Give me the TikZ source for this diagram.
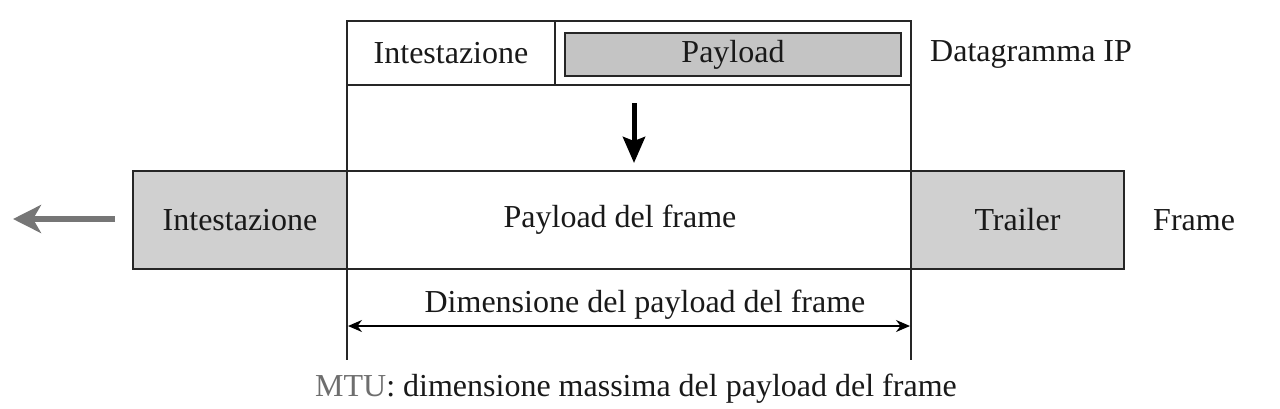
\documentclass[tikz,border=0pt]{standalone}
\usepackage{fontspec}
\setmainfont{Liberation Serif}
\usetikzlibrary{arrows.meta}
\definecolor{boxgray}{RGB}{208,208,208}
\definecolor{paygray}{RGB}{196,196,196}
\definecolor{arrgray}{RGB}{118,118,118}
\definecolor{mtugray}{RGB}{110,110,110}
\begin{document}
\begin{tikzpicture}[x=1pt,y=-1pt,
  every node/.style={font=\fontsize{32}{38}\selectfont, text=black!90},
  cell/.style={draw=black!85, line width=1.6pt, inner sep=0pt, outer sep=0pt, minimum height=#1},
  grayfill/.style={fill=boxgray},
  lbl/.style={anchor=west, inner sep=0pt},
  guide/.style={draw=black!85, line width=1.6pt}]
\useasboundingbox (0,0) rectangle (1280,408);
% IP datagram
\node[cell=64pt, minimum width=208pt] (iphead) at (451,53) {Intestazione};
\node[cell=64pt, minimum width=356pt] (ippay) at (733,53) {};
\node[cell=43pt, minimum width=336pt, fill=paygray] (payin) at (733,54.5) {\raisebox{2pt}{Payload}};
\node[lbl] (dgram) at (930,54) {Datagramma IP};
% frame
\node[cell=98pt, minimum width=214pt, grayfill] (fhead) at (240,220) {Intestazione};
\node[cell=98pt, minimum width=564pt] (fpay) at (629,220) {\hspace*{-18pt}\raisebox{-3pt}{Payload del frame}};
\node[cell=98pt, minimum width=213pt, grayfill] (ftrail) at (1017.5,220) {Trailer};
\node[lbl] (flabel) at (1153,220) {Frame};
% guide lines
\coordinate (gl) at (347,360);
\coordinate (gr) at (911,360);
\draw[guide] (iphead.south west) -- (fpay.north west);
\draw[guide] (ippay.south east) -- (fpay.north east);
\draw[guide] (fpay.south west) -- (gl);
\draw[guide] (fpay.south east) -- (gr);
% down arrow
\coordinate (da1) at (634,103);
\coordinate (da2) at (634,163);
\draw[line width=5pt, -{Stealth[length=26pt, width=22pt, inset=4pt]}] (da1) -- (da2);
% left arrow
\coordinate (la1) at (115,219);
\coordinate (la2) at (13,219);
\draw[draw=arrgray, line width=6pt, -{Stealth[length=28pt, width=28pt, inset=8pt]}] (la1) -- (la2);
% dimension arrow
\coordinate (d1) at (348,326);
\coordinate (d2) at (910,326);
\draw[line width=1.6pt, {Stealth[length=14pt, width=12pt]}-{Stealth[length=14pt, width=12pt]}] (d1) -- (d2);
\node (dimlbl) at (645,305) {Dimensione del payload del frame};
\node (mtu) at (636,389) {{\color{mtugray}MTU}: dimensione massima del payload del frame};
\end{tikzpicture}
\end{document}
